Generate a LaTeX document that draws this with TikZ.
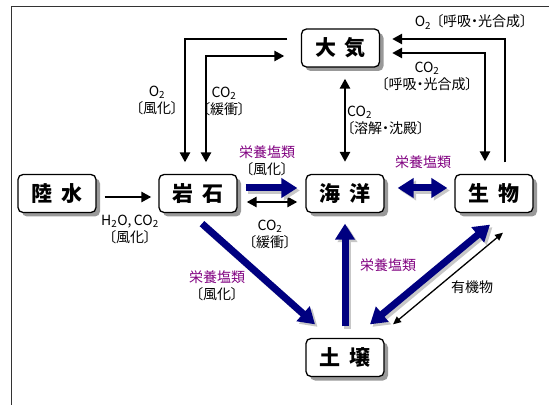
\documentclass[tikz,border=0pt]{standalone}
\usepackage{fontspec}
\newfontfamily\jpfont[RawFeature={+palt}]{Noto Sans CJK JP}
\newfontfamily\jpbox{Noto Sans CJK JP}
\usetikzlibrary{arrows.meta,shadows}
\definecolor{navy}{RGB}{0,0,128}
\definecolor{plum}{RGB}{128,0,128}
\tikzset{
  box/.style={draw, line width=1.3pt, rounded corners=5pt, fill=white,
    minimum width=78pt, minimum height=38pt, inner sep=0pt,
    font=\jpbox\bfseries\fontsize{21}{21}\selectfont,
    drop shadow={shadow xshift=4pt, shadow yshift=-4pt, fill=black!40, opacity=1}},
  lbl/.style={font=\jpfont\fontsize{14}{17}\selectfont, inner sep=0pt, align=center},
  bt/.tip={Triangle[length=10pt,width=10pt]},
  st/.tip={Triangle[length=8pt,width=7pt]},
  nt/.tip={Triangle[length=16pt,width=19pt]},
  blk/.style={line width=2.5pt, draw=black},
  thin/.style={line width=1.3pt, draw=black},
  nav/.style={line width=7pt, draw=navy, fill=navy},
  navsh/.style={line width=7pt, draw=black!22, fill=black!22,
    transform canvas={xshift=2.5pt,yshift=-2.5pt}}
}
\begin{document}
\begin{tikzpicture}[x=1pt,y=-1pt]
\useasboundingbox (0,0) rectangle (549,406);
\draw[line width=1pt, black!80] (549,7) -- (11,7) -- (11,405);

% boxes
\node[box] (riku) at (57,193.5) {陸\hspace{9pt}水};
\node[box] (gan)  at (198,193.5) {岩\hspace{9pt}石};
\node[box] (kai)  at (345,193.5) {海\hspace{9pt}洋};
\node[box] (sei)  at (494,193.5) {生\hspace{9pt}物};
\node[box] (tai)  at (340.5,48) {大\hspace{9pt}気};
\node[box] (do)   at (345,357.5) {土\hspace{9pt}壌};

% black connectors
\draw[blk,-bt] ([xshift=8pt,yshift=-3.5pt]riku.east) -- ([xshift=-7pt,yshift=-3.5pt]gan.west);
\draw[blk,-bt] ([xshift=-13.5pt,yshift=9pt]tai.west) -| ([xshift=-13pt,yshift=11.5pt]gan.north);
\draw[blk,bt-bt] ([xshift=-16.5pt,yshift=-8pt]tai.west) -| ([xshift=8pt,yshift=11.5pt]gan.north);
\draw[blk,-bt] ([xshift=11pt,yshift=11.5pt]sei.north) |- ([xshift=12pt,yshift=9pt]tai.east);
\draw[blk,bt-bt] ([xshift=-9pt,yshift=12.5pt]sei.north) |- ([xshift=12pt,yshift=-5pt]tai.east);
\draw[blk,bt-bt] ([xshift=4.5pt,yshift=-11pt]tai.south) -- ([yshift=12pt]kai.north);
\draw[blk,bt-bt] ([xshift=9pt,yshift=-8.5pt]gan.east) -- ([xshift=-8pt,yshift=-8.5pt]kai.west);
\draw[thin,st-st] ([xshift=48pt,yshift=13.5pt]do.north) -- ([xshift=9pt,yshift=-19.5pt]sei.south);

% blue connectors: shadows
\draw[navsh,-nt] ([xshift=8pt,yshift=5.5pt]gan.east) -- ([xshift=-8pt,yshift=5.5pt]kai.west);
\draw[navsh,nt-nt] ([xshift=13pt,yshift=5.5pt]kai.east) -- ([xshift=-7pt,yshift=5.5pt]sei.west);
\draw[navsh,-nt] ([xshift=4pt,yshift=-10.5pt]gan.south) -- ([xshift=-30pt,yshift=13.5pt]do.north);
\draw[navsh,-nt] ([yshift=11.5pt]do.north) -- ([yshift=-10.5pt]kai.south);
\draw[navsh,nt-nt] ([xshift=25pt,yshift=13.5pt]do.north) -- ([xshift=-4pt,yshift=-11.5pt]sei.south);
% blue connectors
\draw[nav,-nt] ([xshift=8pt,yshift=5.5pt]gan.east) -- ([xshift=-8pt,yshift=5.5pt]kai.west);
\draw[nav,nt-nt] ([xshift=13pt,yshift=5.5pt]kai.east) -- ([xshift=-7pt,yshift=5.5pt]sei.west);
\draw[nav,-nt] ([xshift=4pt,yshift=-10.5pt]gan.south) -- ([xshift=-30pt,yshift=13.5pt]do.north);
\draw[nav,-nt] ([yshift=11.5pt]do.north) -- ([yshift=-10.5pt]kai.south);
\draw[nav,nt-nt] ([xshift=25pt,yshift=13.5pt]do.north) -- ([xshift=-4pt,yshift=-11.5pt]sei.south);

% labels
\node[lbl] (l1) at (157,100) {O\textsubscript{2}\\〔風化〕};
\node[lbl] (l2) at (224,101) {CO\textsubscript{2}\\〔緩衝〕};
\node[lbl] (l3) at (471,22) {O\textsubscript{2}\hspace{5pt}〔呼吸・光合成〕};
\node[lbl] (l4) at (427,76) {CO\textsubscript{2}\\〔呼吸・光合成〕};
\node[lbl, align=left, anchor=west] (l5) at (347,120) {CO\textsubscript{2}\\〔溶解・沈殿〕};
\node[lbl] (l6) at (267,161) {\textcolor{plum}{栄養塩類}\\〔風化〕};
\node[lbl] (l7) at (270,234) {CO\textsubscript{2}\\〔緩衝〕};
\node[lbl] (l8) at (130,229) {H\textsubscript{2}O,\,CO\textsubscript{2}\\〔風化〕};
\node[lbl] (l9) at (217,286) {\textcolor{plum}{栄養塩類}\\〔風化〕};
\node[lbl, text=plum] (l10) at (423,162) {栄養塩類};
\node[lbl, text=plum] (l11) at (388,265) {栄養塩類};
\node[lbl] (l12) at (472,287) {有機物};
\end{tikzpicture}
\end{document}
